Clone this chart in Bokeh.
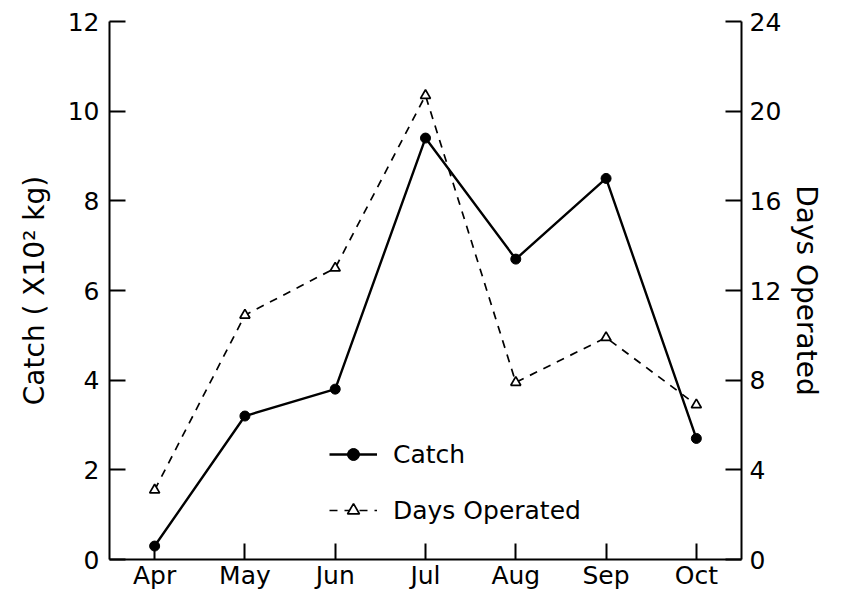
from bokeh.plotting import figure
from bokeh.models import (LinearAxis, Range1d, FixedTicker, Legend, LegendItem,
                          FactorRange, ColumnDataSource)
from bokeh.embed import file_html
from bokeh.resources import INLINE

months = ["Apr", "May", "Jun", "Jul", "Aug", "Sep", "Oct"]
catch = [0.3, 3.2, 3.8, 9.4, 6.7, 8.5, 2.7]             # x10^2 kg
days_operated = [3.1, 10.9, 13, 20.7, 7.9, 9.9, 6.9]    # days
left_ticks = [0, 2, 4, 6, 8, 10, 12]
right_ticks = [0, 4, 8, 12, 16, 20, 24]

FONT = "DejaVu Sans"

src = ColumnDataSource(dict(month=months, catch=catch, days=days_operated))

p = figure(width=826, height=592, x_range=FactorRange(factors=months),
           y_range=Range1d(0, 12), output_backend="svg", toolbar_location=None,
           min_border_left=109, min_border_right=80, min_border_top=21,
           min_border_bottom=31)
p.extra_y_ranges = {"days": Range1d(0, 24)}
p.outline_line_color = None
p.xgrid.grid_line_color = None
p.ygrid.grid_line_color = None
p.background_fill_color = "white"
p.border_fill_color = "white"

# Axes
xa = p.xaxis[0]
ya = p.yaxis[0]
ya.ticker = FixedTicker(ticks=left_ticks)
ya.axis_label = "Catch ( X10\u00b2 kg)"

ra = LinearAxis(y_range_name="days", ticker=FixedTicker(ticks=right_ticks),
                axis_label="Days Operated")
p.add_layout(ra, "right")

for ax in (xa, ya, ra):
    ax.axis_line_color = "black"
    ax.axis_line_width = 2
    ax.major_tick_line_color = "black"
    ax.major_tick_line_width = 2
    ax.major_tick_in = 16
    ax.major_tick_out = 0
    ax.minor_tick_line_color = None
    ax.major_label_text_font = FONT
    ax.major_label_text_font_size = "25px"
    ax.major_label_text_color = "black"
    ax.axis_label_text_font = FONT
    ax.axis_label_text_font_size = "28px"
    ax.axis_label_text_font_style = "normal"
    ax.axis_label_text_color = "black"

xa.major_label_standoff = 1
ya.major_label_standoff = 10
ra.major_label_standoff = 8
ya.axis_label_standoff = 14
ra.axis_label_standoff = 6

# Catch series
l1 = p.line("month", "catch", source=src, line_color="black", line_width=2.4)
s1 = p.scatter("month", "catch", source=src, marker="circle", size=10,
               fill_color="black", line_color="black")

# Days operated series
l2 = p.line("month", "days", source=src, y_range_name="days", line_color="black",
            line_width=1.7, line_dash="8 7")
s2 = p.scatter("month", "days", source=src, y_range_name="days", marker="triangle",
               size=10, fill_color="white", line_color="black", line_width=1.7)

legend = Legend(items=[LegendItem(label="Catch", renderers=[l1, s1]),
                       LegendItem(label="Days Operated", renderers=[l2, s2])],
                location=(220, 34), orientation="vertical")
legend.border_line_color = None
legend.background_fill_alpha = 0
legend.padding = 0
legend.margin = 0
legend.spacing = 26
legend.glyph_width = 48
legend.glyph_height = 30
legend.label_height = 30
legend.label_standoff = 16
legend.label_text_font = FONT
legend.label_text_font_size = "25px"
legend.label_text_color = "black"
p.add_layout(legend)

open("out.html", "w").write(file_html(p, INLINE))
